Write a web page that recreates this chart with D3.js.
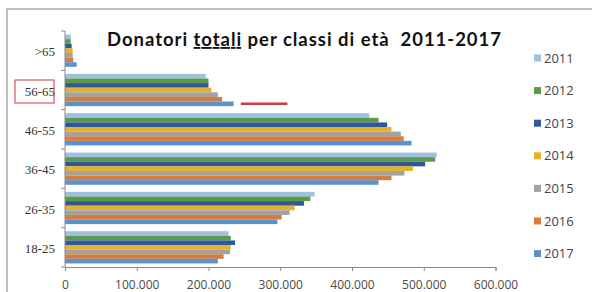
<!DOCTYPE html>
<html>
<head>
<meta charset="utf-8">
<script src="https://cdn.jsdelivr.net/npm/d3@7"></script>
<style>
body { margin: 0; background: #fff; }
svg { display: block; }
</style>
</head>
<body>
<div id="chart"></div>
<script>
// data (top category first)
var categories = [">65", "56-65", "46-55", "36-45", "26-35", "18-25"];
var years = ["2011", "2012", "2013", "2014", "2015", "2016", "2017"];
var v2011 = [8000, 196000, 424000, 518000, 348000, 228000];
var v2012 = [8000, 200000, 437000, 516000, 342000, 231000];
var v2013 = [9300, 200000, 449000, 502000, 333000, 237000];
var v2014 = [10700, 204000, 455000, 485000, 320000, 231000];
var v2015 = [10700, 213000, 468000, 473000, 313000, 230000];
var v2016 = [11500, 219000, 472000, 455000, 302000, 221000];
var v2017 = [16300, 235000, 483000, 437000, 296000, 213000];
var xTicks = [0, 100000, 200000, 300000, 400000, 500000, 600000];
var highlight = { category: "56-65", year: "2017", from: 245000, to: 310000 };

var seriesValues = [v2011, v2012, v2013, v2014, v2015, v2016, v2017];
var colors = ["#9fc0e0", "#5b9a4c", "#2f5899", "#e6b12a", "#a2a2a2", "#d57d3e", "#5b92cc"];

var svgWidth = 592;
var svgHeight = 292;
var margin = { top: 31, bottom: 25, left: 65, right: 96 };

var svg = d3.select("#chart").append("svg")
    .attr("width", svgWidth)
    .attr("height", svgHeight);

// frame of the pasted picture
svg.append("rect")
    .attr("x", 7).attr("y", 9)
    .attr("width", 620).attr("height", 320)
    .attr("fill", "none")
    .attr("stroke", "#a8a8a8")
    .attr("stroke-width", 1.5);

var x = d3.scaleLinear()
    .domain([0, 600000])
    .range([margin.left, svgWidth - margin.right - 0.5]);

var y = d3.scaleBand()
    .domain(categories)
    .range([margin.top, svgHeight - margin.bottom])
    .paddingInner(0.18)
    .paddingOuter(0.09);

var yInner = d3.scaleBand()
    .domain(years)
    .range([0, y.bandwidth()]);

var rows = [];
years.forEach(function(yr, i) {
    categories.forEach(function(c, j) {
        rows.push({ year: yr, cat: c, value: seriesValues[i][j], color: colors[i] });
    });
});

svg.append("g").selectAll("rect").data(rows).enter().append("rect")
    .attr("x", x(0))
    .attr("y", d => y(d.cat) + yInner(d.year))
    .attr("width", d => x(d.value) - x(0))
    .attr("height", yInner.bandwidth())
    .attr("fill", d => d.color);

// axes
var it = d3.formatLocale({ decimal: ",", thousands: ".", grouping: [3], currency: ["", "€"] });
var bottomAxis = d3.axisBottom(x).tickValues(xTicks).tickFormat(it.format(",")).tickSize(4).tickPadding(9);
var xg = svg.append("g")
    .attr("transform", `translate(0, ${svgHeight - margin.bottom})`)
    .call(bottomAxis);
xg.select(".domain").attr("stroke", "#8a8a8a");
xg.selectAll(".tick line").attr("stroke", "#8a8a8a");
xg.selectAll("text")
    .attr("fill", "#4a4a4a")
    .style("font-family", "Open Sans")
    .style("font-size", "12px");

// category axis: ticks sit between bands
var yg = svg.append("g");
yg.append("line")
    .attr("x1", x(0)).attr("x2", x(0))
    .attr("y1", y.range()[0]).attr("y2", y.range()[1])
    .attr("stroke", "#8a8a8a");
var bounds = categories.map(c => y(c) - y.step() * y.paddingOuter());
bounds.push(y.range()[1]);
yg.selectAll(".bt").data(bounds).enter().append("line")
    .attr("x1", x(0) - 4).attr("x2", x(0))
    .attr("y1", d => d).attr("y2", d => d)
    .attr("stroke", "#8a8a8a");
yg.selectAll("text").data(categories).enter().append("text")
    .attr("x", x(0) - 10)
    .attr("y", d => y(d) + y.bandwidth() / 2 + 1)
    .attr("dy", "0.35em")
    .attr("text-anchor", "end")
    .attr("fill", "#333")
    .style("font-family", "Liberation Serif")
    .style("font-size", "13px")
    .text(d => d);

// red box around the highlighted class label
svg.append("rect")
    .attr("x", 15).attr("y", y(highlight.category) + y.bandwidth() / 2 - 10)
    .attr("width", 39).attr("height", 23)
    .attr("fill", "none")
    .attr("stroke", "#c8383c")
    .attr("stroke-width", 1);

// red marker next to the highlighted bar
var hy = y(highlight.category) + yInner(highlight.year) + yInner.bandwidth() / 2;
svg.append("line")
    .attr("x1", x(highlight.from)).attr("x2", x(highlight.to))
    .attr("y1", hy).attr("y2", hy)
    .attr("stroke", "#cc3b3f")
    .attr("stroke-width", 2.5);

// title
var title = svg.append("text")
    .attr("x", 107).attr("y", 46)
    .attr("textLength", 394)
    .attr("lengthAdjust", "spacing")
    .attr("fill", "#111")
    .style("white-space", "pre")
    .style("font-family", "Lato")
    .style("font-weight", "bold")
    .style("font-size", "18.5px");
title.append("tspan").text("Donatori ");
title.append("tspan").attr("text-decoration", "underline").text("totali");
title.append("tspan").text(" per classi di età  2011-2017");

// legend
var legend = svg.append("g").selectAll("g").data(years).enter().append("g")
    .attr("transform", (d, i) => `translate(534, ${58 + i * 32.6})`);
legend.append("rect")
    .attr("x", 0).attr("y", -3.5)
    .attr("width", 7).attr("height", 7)
    .attr("fill", (d, i) => colors[i]);
legend.append("text")
    .attr("x", 10).attr("dy", "0.35em")
    .attr("fill", "#444")
    .style("font-family", "Open Sans")
    .style("font-size", "13px")
    .text(d => d);
</script>
</body>
</html>
